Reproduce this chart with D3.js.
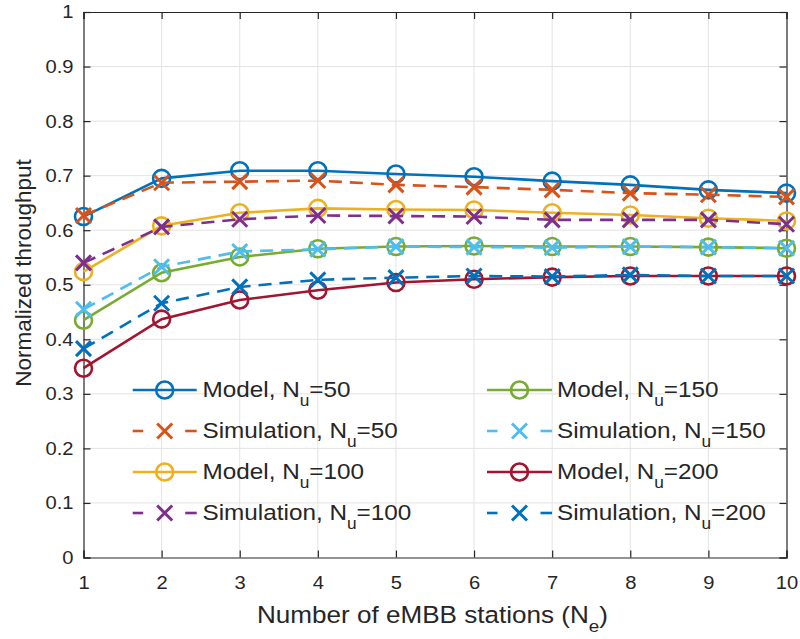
<!DOCTYPE html>
<html><head><meta charset="utf-8">
<script src="https://cdn.jsdelivr.net/npm/d3@7"></script>
<style>body{margin:0;background:#fff}svg{display:block}text{font-family:"Liberation Sans",Arial,Helvetica,sans-serif;fill:#262626}</style>
</head><body><svg id="c" width="800" height="639"></svg>
<script>
const stations = [1,2,3,4,5,6,7,8,9,10];
const model50  = [0.625,0.695,0.709,0.709,0.703,0.698,0.690,0.683,0.674,0.668];
const sim50    = [0.627,0.687,0.689,0.691,0.683,0.679,0.674,0.668,0.665,0.661];
const model100 = [0.524,0.608,0.632,0.640,0.638,0.637,0.632,0.628,0.622,0.617];
const sim100   = [0.540,0.606,0.620,0.627,0.626,0.625,0.619,0.619,0.619,0.611];
const model150 = [0.435,0.522,0.551,0.566,0.570,0.571,0.570,0.570,0.569,0.567];
const sim150   = [0.455,0.533,0.561,0.565,0.570,0.569,0.568,0.570,0.569,0.567];
const model200 = [0.347,0.437,0.472,0.490,0.504,0.510,0.514,0.516,0.516,0.516];
const sim200   = [0.383,0.466,0.496,0.509,0.513,0.516,0.515,0.518,0.516,0.516];
const yTicks = [0,0.1,0.2,0.3,0.4,0.5,0.6,0.7,0.8,0.9,1];
const xTicks = [1,2,3,4,5,6,7,8,9,10];

const series = [
  {kind:"Model", nu:"50", v:model50, color:"#0072BD", marker:"o"},
  {kind:"Simulation", nu:"50", v:sim50, color:"#D95319", marker:"x"},
  {kind:"Model", nu:"100", v:model100, color:"#EDB120", marker:"o"},
  {kind:"Simulation", nu:"100", v:sim100, color:"#7E2F8E", marker:"x"},
  {kind:"Model", nu:"150", v:model150, color:"#77AC30", marker:"o"},
  {kind:"Simulation", nu:"150", v:sim150, color:"#4DBEEE", marker:"x"},
  {kind:"Model", nu:"200", v:model200, color:"#A2142F", marker:"o"},
  {kind:"Simulation", nu:"200", v:sim200, color:"#0072BD", marker:"x"}
];

const L=83.5, R=786.5, T=12, B=557.5;
const SX = 1.09; // horizontal glyph stretch seen in the reference
const svg = d3.select("#c");
const x = d3.scaleLinear().domain([1,10]).range([L,R]);
const y = d3.scaleLinear().domain([0,1]).range([B,T]);

// grid
const g = svg.append("g");
g.selectAll(".gx").data(xTicks.slice(1,-1)).enter().append("line")
  .attr("x1",d=>x(d)).attr("x2",d=>x(d)).attr("y1",T).attr("y2",B)
  .attr("stroke","#e3e3e3").attr("stroke-width",1);
g.selectAll(".gy").data(yTicks.slice(1,-1)).enter().append("line")
  .attr("x1",L).attr("x2",R).attr("y1",d=>y(d)).attr("y2",d=>y(d))
  .attr("stroke","#e3e3e3").attr("stroke-width",1);

// axes with inward ticks
const tl = 7;
const axB = svg.append("g").attr("transform",`translate(0,${B})`)
  .call(d3.axisBottom(x).tickValues(xTicks).tickSize(-tl).tickPadding(18).tickFormat(d3.format("d")));
const axT = svg.append("g").attr("transform",`translate(0,${T})`)
  .call(d3.axisTop(x).tickValues(xTicks).tickSize(-tl).tickFormat(""));
const axL = svg.append("g").attr("transform",`translate(${L},0)`)
  .call(d3.axisLeft(y).tickValues(yTicks).tickSize(-tl).tickPadding(10).tickFormat(d=>d===0||d===1?d3.format("d")(d):d3.format(".1f")(d)));
const axR = svg.append("g").attr("transform",`translate(${R},0)`)
  .call(d3.axisRight(y).tickValues(yTicks).tickSize(-tl).tickFormat(""));
[axB,axT,axL,axR].forEach(a=>{
  a.select(".domain").attr("stroke","#262626").attr("stroke-width",1.2);
  a.selectAll(".tick line").attr("stroke","#262626").attr("stroke-width",1.2);
  a.selectAll(".tick text").attr("font-size",18.5).attr("fill","#262626").attr("font-family","Liberation Sans, Arial, sans-serif");
});
axL.selectAll(".tick text").attr("transform",`translate(-10,0) scale(${SX},1)`).attr("x",0);
axB.selectAll(".tick text").attr("transform",`scale(${SX},1)`);

// series
const line = d3.line().x((d,i)=>x(stations[i])).y(d=>y(d));
const lw = 2.6, mr = 8.5, xs = 7.5;
function drawMarker(sel, s, cx, cy){
  if(s.marker==="o"){
    sel.append("circle").attr("cx",cx).attr("cy",cy).attr("r",mr)
      .attr("fill","none").attr("stroke",s.color).attr("stroke-width",lw);
  } else {
    sel.append("path").attr("d",`M${cx-xs},${cy-xs}L${cx+xs},${cy+xs}M${cx-xs},${cy+xs}L${cx+xs},${cy-xs}`)
      .attr("stroke",s.color).attr("stroke-width",lw+0.4).attr("fill","none");
  }
}
series.forEach(s=>{
  const gg = svg.append("g");
  gg.append("path").datum(s.v).attr("d",line).attr("fill","none")
    .attr("stroke",s.color).attr("stroke-width",lw)
    .attr("stroke-dasharray",s.marker==="x"?"13,8":null);
  s.v.forEach((v,i)=>drawMarker(gg,s,x(stations[i]),y(v)));
});

// legend
const rowsY = [390,431,472,513];
const cols = [{x0:132.7,x1:196.7,tx:202.5},{x0:487,x1:552,tx:557}];
series.forEach((s,i)=>{
  const c = cols[Math.floor(i/4)], ry = rowsY[i%4];
  const lg = svg.append("g");
  const cx = (c.x0+c.x1)/2;
  if(s.marker==="o"){
    lg.append("line").attr("x1",c.x0).attr("x2",c.x1).attr("y1",ry).attr("y2",ry)
      .attr("stroke",s.color).attr("stroke-width",lw);
  } else {
    lg.append("line").attr("x1",c.x0).attr("x2",c.x0+10.5).attr("y1",ry).attr("y2",ry)
      .attr("stroke",s.color).attr("stroke-width",lw);
    lg.append("line").attr("x1",c.x1-11.5).attr("x2",c.x1).attr("y1",ry).attr("y2",ry)
      .attr("stroke",s.color).attr("stroke-width",lw);
  }
  drawMarker(lg,s,cx,ry);
  const t = lg.append("text").attr("transform",`translate(${c.tx},${ry+7}) scale(1.08,1)`).attr("font-size",22.5);
  t.append("tspan").text(`${s.kind}, N`);
  t.append("tspan").attr("dy",9).attr("font-size",16).text("u");
  t.append("tspan").attr("dy",-9).text(`=${s.nu}`);
});

// axis labels
const xl = svg.append("text").attr("transform",`translate(${(L+R)/2-2.5},623) scale(1.11,1)`).attr("text-anchor","middle").attr("font-size",23.5);
xl.append("tspan").text("Number of eMBB stations (N");
xl.append("tspan").attr("dy",9).attr("font-size",17).text("e");
xl.append("tspan").attr("dy",-9).text(")");

svg.append("text").attr("transform",`translate(31,273) rotate(-90)`)
  .attr("text-anchor","middle").attr("font-size",22.5).text("Normalized throughput");
</script></body></html>
